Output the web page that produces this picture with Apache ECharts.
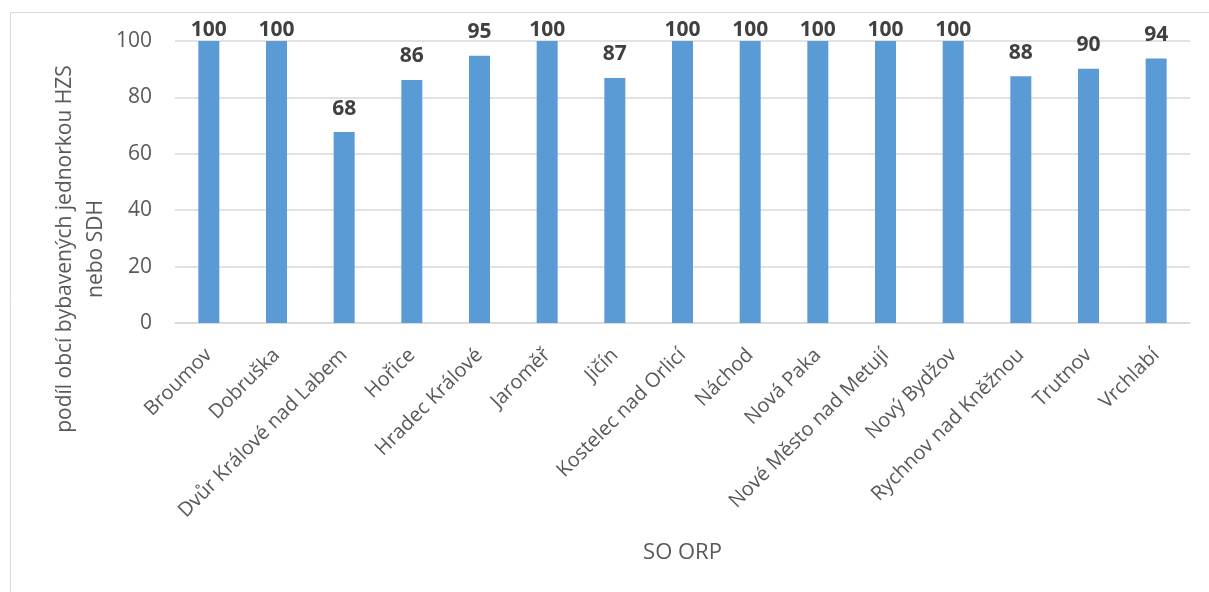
<!DOCTYPE html>
<html lang="cs">
<head>
    <meta charset="UTF-8">
    <title>SO ORP</title>
    <script src="https://cdn.jsdelivr.net/npm/echarts@6/dist/echarts.min.js"></script>
    <style>
        html, body { margin: 0; padding: 0; background: #fff; }
        #chart { width: 1209px; height: 592px; }
    </style>
</head>
<body>
    <div id="chart"></div>
    <script>
        // data
        var orpNames = ['Broumov', 'Dobruška', 'Dvůr Králové nad Labem', 'Hořice', 'Hradec Králové', 'Jaroměř',
            'Jičín', 'Kostelec nad Orlicí', 'Náchod', 'Nová Paka', 'Nové Město nad Metují', 'Nový Bydžov',
            'Rychnov nad Kněžnou', 'Trutnov', 'Vrchlabí'];
        var podil = [100, 100, 67.7, 86.2, 94.8, 100, 86.9, 100, 100, 100, 100, 100, 87.5, 90.2, 93.8];
        var yTicks = [0, 20, 40, 60, 80, 100];

        var font = '"Open Sans", "Noto Sans", sans-serif';
        var chart = echarts.init(document.getElementById('chart'));

        // popisky u 100 % jsou prisazene k okraji grafu
        var barData = podil.map(function (v) {
            return { value: v, label: { distance: v >= 100 ? 0 : 13 } };
        });

        var option = {
            animation: false,
            textStyle: { fontFamily: font },
            grid: { left: 175, right: 19, top: 41, bottom: 269, containLabel: false },
            graphic: [
                {   // ramecek grafu
                    type: 'polyline',
                    shape: { points: [[10.5, 600], [10.5, 12.5], [1220, 12.5]] },
                    style: { stroke: '#d9d9d9', lineWidth: 1, fill: null }
                },
                {   // popis osy y
                    type: 'text',
                    x: 81, y: 249,
                    rotation: Math.PI / 2,
                    style: {
                        text: 'podíl obcí bybavených jednorkou HZS\nnebo SDH',
                        fontFamily: font, fontSize: 21, fill: '#595959',
                        align: 'center', verticalAlign: 'middle', lineHeight: 31
                    }
                }
            ],
            xAxis: {
                type: 'category',
                data: orpNames,
                name: 'SO ORP',
                nameLocation: 'middle',
                nameGap: 219,
                nameTextStyle: { fontFamily: font, fontSize: 22, color: '#595959' },
                axisLine: { lineStyle: { color: '#d9d9d9', width: 1.5 } },
                axisTick: { show: false },
                axisLabel: { rotate: 45, interval: 0, fontSize: 20, color: '#595959', margin: 29 }
            },
            yAxis: {
                type: 'value',
                min: yTicks[0],
                max: yTicks[yTicks.length - 1],
                interval: 20,
                axisLine: { show: false },
                axisTick: { show: false },
                splitLine: { lineStyle: { color: '#d9d9d9', width: 1.5 } },
                axisLabel: { fontSize: 21, color: '#595959', margin: 23 }
            },
            series: [{
                type: 'bar',
                data: barData,
                barWidth: 21,
                itemStyle: { color: '#5b9bd5' },
                label: {
                    show: true,
                    position: 'top',
                    fontSize: 21,
                    fontWeight: 'bold',
                    color: '#404040',
                    formatter: function (p) { return Math.round(p.value); }
                }
            }]
        };
        chart.setOption(option);
    </script>
</body>
</html>
